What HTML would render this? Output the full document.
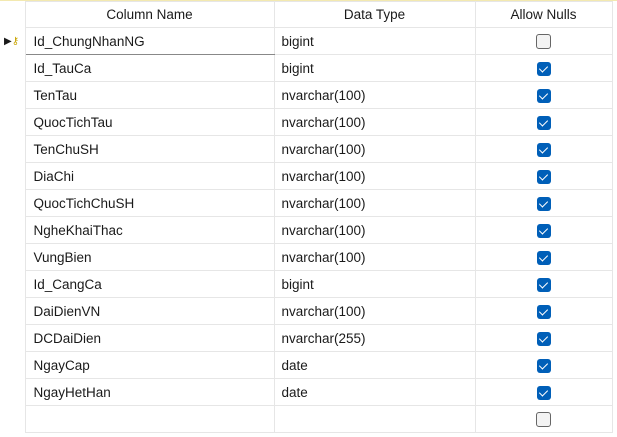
<!DOCTYPE html>
<html><head><style>
body{margin:0;width:617px;height:437px;background:#fff;font-family:"Liberation Sans",sans-serif;font-size:13.5px;color:#1a1a1a;overflow:hidden;position:relative}
.top{position:absolute;left:0;top:0;width:617px;height:1px;background:#f3e9b0}
table{position:absolute;left:0;top:1px;border-collapse:collapse;table-layout:fixed}
td,th{border:1px solid #e6e6e6;height:26px;padding:0;font-weight:normal;white-space:nowrap}
tr.h th{height:25px;text-align:center}
td.n{padding-left:8px}
td.t{padding-left:7px}
td.c{text-align:center}
.cb{display:inline-block;width:14px;height:14px;border-radius:3px;background:#005fb8;vertical-align:middle;position:relative}
.cb::after{content:"";position:absolute;left:4px;top:2px;width:4px;height:7px;border:solid #fff;border-width:0 1.5px 1.5px 0;transform:rotate(45deg)}
.cb.e{background:#f3f3f3;border:1px solid #666;width:13px;height:13px}
.cb.e::after{display:none}
.g{border-left:none;border-top:none;border-bottom:none}
.sel{border-bottom:1px solid #888}
</style></head><body>
<div class="top"></div>
<table>
<colgroup><col style="width:25px"><col style="width:249px"><col style="width:201px"><col style="width:137px"></colgroup>
<tr class="h"><th class="g"></th><th>Column Name</th><th>Data Type</th><th>Allow Nulls</th></tr>
<tr><td class="g" style="font-size:10px;padding-left:4px">▶<span style="color:#c9a400">⚷</span></td><td class="n sel">Id_ChungNhanNG</td><td class="t">bigint</td><td class="c"><span class="cb e"></span></td></tr>
<tr><td class="g"></td><td class="n">Id_TauCa</td><td class="t">bigint</td><td class="c"><span class="cb"></span></td></tr>
<tr><td class="g"></td><td class="n">TenTau</td><td class="t">nvarchar(100)</td><td class="c"><span class="cb"></span></td></tr>
<tr><td class="g"></td><td class="n">QuocTichTau</td><td class="t">nvarchar(100)</td><td class="c"><span class="cb"></span></td></tr>
<tr><td class="g"></td><td class="n">TenChuSH</td><td class="t">nvarchar(100)</td><td class="c"><span class="cb"></span></td></tr>
<tr><td class="g"></td><td class="n">DiaChi</td><td class="t">nvarchar(100)</td><td class="c"><span class="cb"></span></td></tr>
<tr><td class="g"></td><td class="n">QuocTichChuSH</td><td class="t">nvarchar(100)</td><td class="c"><span class="cb"></span></td></tr>
<tr><td class="g"></td><td class="n">NgheKhaiThac</td><td class="t">nvarchar(100)</td><td class="c"><span class="cb"></span></td></tr>
<tr><td class="g"></td><td class="n">VungBien</td><td class="t">nvarchar(100)</td><td class="c"><span class="cb"></span></td></tr>
<tr><td class="g"></td><td class="n">Id_CangCa</td><td class="t">bigint</td><td class="c"><span class="cb"></span></td></tr>
<tr><td class="g"></td><td class="n">DaiDienVN</td><td class="t">nvarchar(100)</td><td class="c"><span class="cb"></span></td></tr>
<tr><td class="g"></td><td class="n">DCDaiDien</td><td class="t">nvarchar(255)</td><td class="c"><span class="cb"></span></td></tr>
<tr><td class="g"></td><td class="n">NgayCap</td><td class="t">date</td><td class="c"><span class="cb"></span></td></tr>
<tr><td class="g"></td><td class="n">NgayHetHan</td><td class="t">date</td><td class="c"><span class="cb"></span></td></tr>
<tr><td class="g"></td><td class="n"></td><td class="t"></td><td class="c"><span class="cb e"></span></td></tr>
</table>
</body></html>
